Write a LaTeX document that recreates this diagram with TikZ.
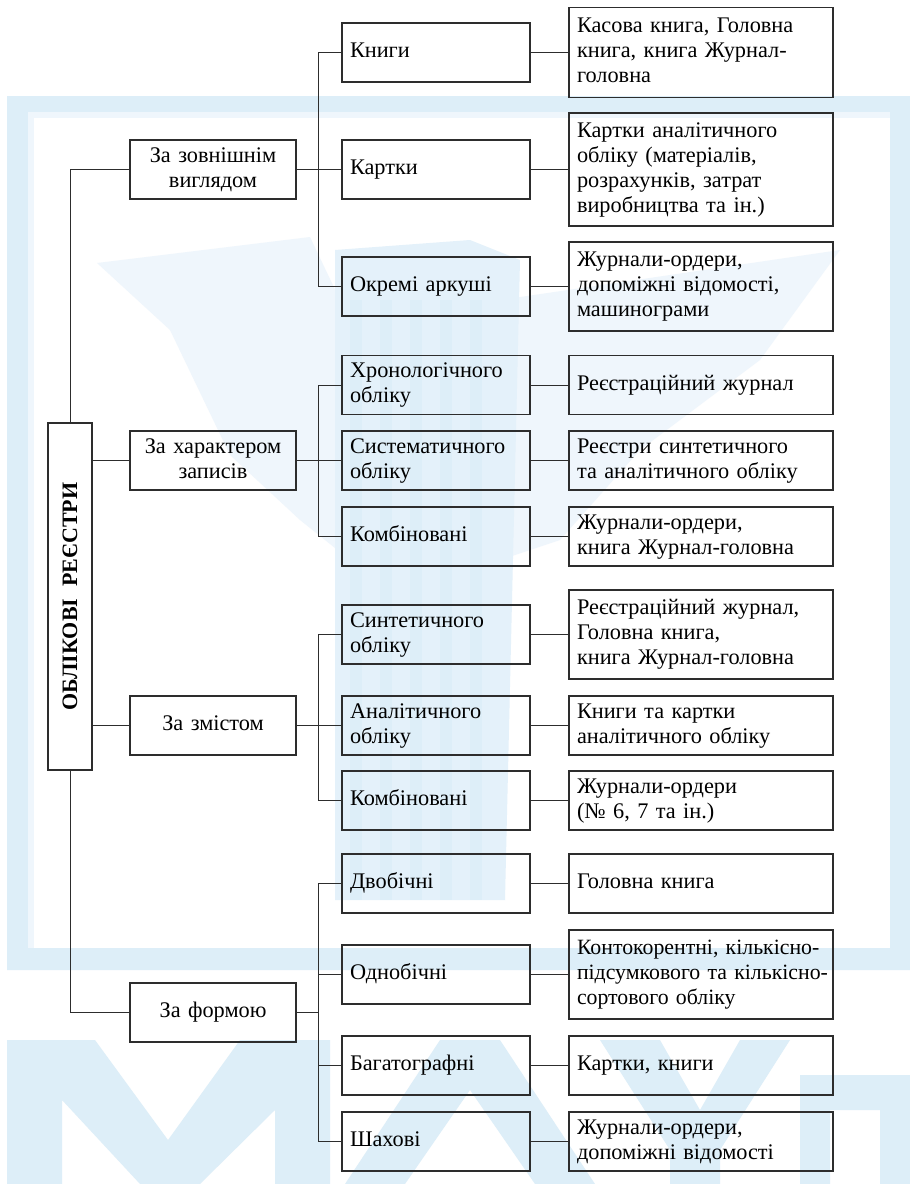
\documentclass[tikz,border=0pt]{standalone}
\usepackage{fontspec}
\setmainfont{Liberation Serif}
\definecolor{wm}{RGB}{221,238,248}
\definecolor{wmmid}{RGB}{228,241,250}
\definecolor{wmlight}{RGB}{239,246,252}
\definecolor{ln}{RGB}{45,45,45}
\begin{document}
\begin{tikzpicture}[x=1pt,y=-1pt,
  every node/.style={font=\fontsize{22.3}{25}\selectfont},
  basebox/.style={draw=ln, line width=1.1pt, inner xsep=8pt, inner ysep=0pt, minimum height=59pt,
    execute at begin node=\strut, execute at end node=\strut},
  midbox/.style={basebox, text width=150pt, align=center},
  catbox/.style={basebox, text width=172pt, align=left},
  descbox/.style={basebox, text width=248pt, align=left},
  link/.style={draw=ln, line width=1pt}]
\useasboundingbox (0,0) rectangle (910,1184);
% ---------- watermark ----------
\fill[white] (0,0) rectangle (910,1184);
\fill[wm, even odd rule] (7,96) rectangle (910,970) (28,112) rectangle (890,948);
\fill[wmlight] (28,112) rectangle (890,118);
\fill[wmlight] (28,112) rectangle (34,948);
% central emblem
\fill[wmlight] (97,263) -- (310,237) -- (340,300) -- (350,560) -- (300,520) -- (230,455) -- (170,330) -- cycle;
\fill[wmlight] (500,300) -- (840,250) -- (760,360) -- (640,450) -- (560,540) -- (500,560) -- cycle;
\fill[wmmid] (335,250) -- (470,240) -- (520,260) -- (505,900) -- (335,900) -- cycle;
\foreach \sx in {350,380,410,440,470} {\fill[wm] (\sx,300) rectangle ++(12,600);}
% bottom letters
\fill[wm] (7,1184) -- (7,1040) -- (95,1040) -- (168,1140) -- (240,1040) -- (330,1040) -- (330,1184) -- (275,1184) -- (275,1110) -- (200,1184) -- (140,1184) -- (62,1100) -- (62,1184) -- cycle;
\fill[wm] (345,1184) -- (440,1040) -- (500,1040) -- (595,1184) -- (535,1184) -- (470,1090) -- (405,1184) -- cycle;
\fill[wm] (600,1040) -- (660,1040) -- (700,1110) -- (740,1040) -- (790,1040) -- (720,1150) -- (720,1184) -- (670,1184) -- (670,1150) -- cycle;
\fill[wm] (800,1184) -- (800,1075) -- (910,1075) -- (910,1184) -- (880,1184) -- (880,1110) -- (830,1110) -- (830,1184) -- cycle;
% ---------- root ----------
\node[draw=ln, line width=1.1pt, minimum width=44pt, minimum height=347pt, inner sep=0pt] (root) at (70,596.5) {};
\node[rotate=90, font=\fontsize{22}{25}\selectfont\bfseries] (roottext) at (root.center) {ОБЛІКОВІ\hspace{0.55em}РЕЄСТРИ};
% ---------- level 2 ----------
\node[midbox] (A) at (213,169.5) {За зовнішнім\\виглядом};
\node[midbox] (B) at (213,460.5) {За характером\\записів};
\node[midbox] (C) at (213,725.5) {За змістом};
\node[midbox] (D) at (213,1012.5) {За формою};
% ---------- level 3 ----------
\node[catbox] (c1) at (436,52.5) {Книги};
\node[catbox] (c2) at (436,169.5) {Картки};
\node[catbox] (c3) at (436,286.5) {Окремі аркуші};
\node[catbox] (c4) at (436,385) {Хронологічного\\обліку};
\node[catbox] (c5) at (436,460.5) {Систематичного\\обліку};
\node[catbox] (c6) at (436,536.5) {Комбіновані};
\node[catbox] (c7) at (436,634.5) {Синтетичного\\обліку};
\node[catbox] (c8) at (436,725.5) {Аналітичного\\обліку};
\node[catbox] (c9) at (436,800.5) {Комбіновані};
\node[catbox] (c10) at (436,883.5) {Двобічні};
\node[catbox] (c11) at (436,974.5) {Однобічні};
\node[catbox] (c12) at (436,1065.5) {Багатографні};
\node[catbox] (c13) at (436,1141.5) {Шахові};
% ---------- level 4 ----------
\node[descbox, minimum height=90pt] (d1) at (701,52.5) {Касова книга, Головна\\книга, книга Журнал-\\головна};
\node[descbox, minimum height=113pt] (d2) at (701,169.5) {Картки аналітичного\\обліку (матеріалів,\\розрахунків, затрат\\виробництва та ін.)};
\node[descbox, minimum height=89pt] (d3) at (701,286.5) {Журнали-ордери,\\допоміжні відомості,\\машинограми};
\node[descbox] (d4) at (701,385) {Реєстраційний журнал};
\node[descbox] (d5) at (701,460.5) {Реєстри синтетичного\\та аналітичного обліку};
\node[descbox] (d6) at (701,536.5) {Журнали-ордери,\\книга Журнал-головна};
\node[descbox, minimum height=89pt] (d7) at (701,634.5) {Реєстраційний журнал,\\Головна книга,\\книга Журнал-головна};
\node[descbox] (d8) at (701,725.5) {Книги та картки\\аналітичного обліку};
\node[descbox] (d9) at (701,800.5) {Журнали-ордери\\(№ 6, 7 та ін.)};
\node[descbox] (d10) at (701,883.5) {Головна книга};
\node[descbox, minimum height=89pt, font=\fontsize{21.8}{25}\selectfont] (d11) at (701,974.5) {\mbox{Контокорентні, кількісно-}\\\mbox{підсумкового та кількісно-}\\сортового обліку};
\node[descbox] (d12) at (701,1065.5) {Картки, книги};
\node[descbox] (d13) at (701,1141.5) {Журнали-ордери,\\допоміжні відомості};
% ---------- connectors ----------
\coordinate (bus) at (318,0);
\draw[link] (A.west) -| (root.north);
\draw[link] (root.south) |- (D.west);
\draw[link] (B.west -| root.east) -- (B.west);
\draw[link] (C.west -| root.east) -- (C.west);
% group A
\draw[link] (A.east) -- (A.east -| bus);
\draw[link] (c1.west -| bus) -- (c3.west -| bus);
\foreach \i in {1,2,3} {\draw[link] (c\i.west -| bus) -- (c\i.west);}
% group B
\draw[link] (B.east) -- (B.east -| bus);
\draw[link] (c4.west -| bus) -- (c6.west -| bus);
\foreach \i in {4,5,6} {\draw[link] (c\i.west -| bus) -- (c\i.west);}
% group C
\draw[link] (C.east) -- (C.east -| bus);
\draw[link] (c7.west -| bus) -- (c9.west -| bus);
\foreach \i in {7,8,9} {\draw[link] (c\i.west -| bus) -- (c\i.west);}
% group D
\draw[link] (D.east) -- (D.east -| bus);
\draw[link] (c10.west -| bus) -- (c13.west -| bus);
\foreach \i in {10,11,12,13} {\draw[link] (c\i.west -| bus) -- (c\i.west);}
% level 3 to level 4
\foreach \i in {1,...,13} {\draw[link] (c\i.east) -- (d\i.west);}
\end{tikzpicture}
\end{document}
